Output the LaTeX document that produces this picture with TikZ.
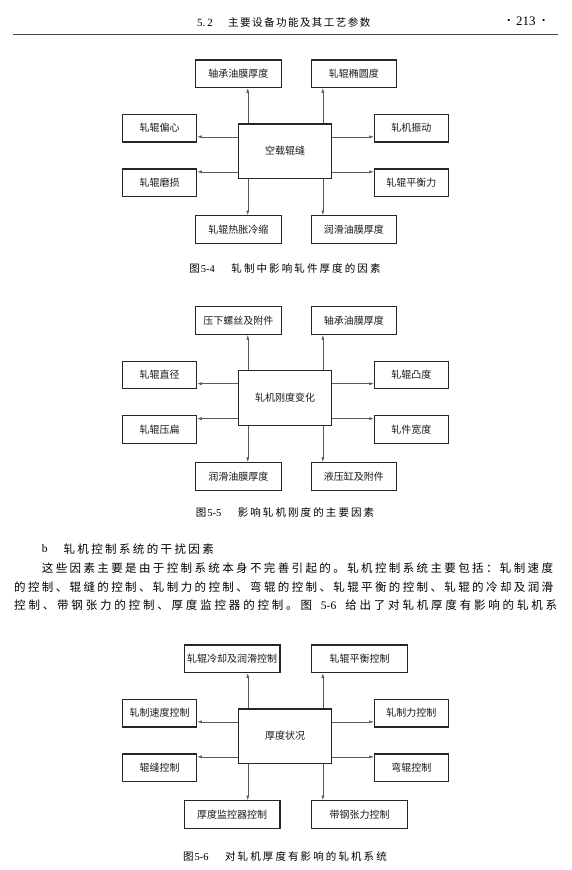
\documentclass[tikz,border=0pt]{standalone}
\usepackage{fontspec}
\setmainfont{Liberation Serif}
\newfontfamily\cjk{Noto Sans CJK SC}
\newfontfamily\cjkcap[LetterSpace=20]{Noto Sans CJK SC}
\newfontfamily\cjkhead[LetterSpace=14]{Noto Sans CJK SC}
\newfontfamily\cjkbody[LetterSpace=20.7]{Noto Sans CJK SC}
\newfontfamily\cjkbodyw[LetterSpace=24.5]{Noto Sans CJK SC}
\usetikzlibrary{arrows.meta}
\tikzset{
  box/.style={draw=black!85, line width=1.1pt, minimum height=27.7pt, inner sep=0pt,
    font=\cjk\fontsize{10}{12}\selectfont, text=black!90},
  sidebox/.style={box, minimum width=74pt},
  topbox/.style={box, minimum width=85.5pt},
  widebox/.style={box, minimum width=95.7pt},
  hub/.style={box, minimum width=93.4pt, minimum height=54.3pt},
  conn/.style={draw=black!65, line width=0.5pt, -{Latex[length=4.5pt,width=3pt]}},
  figcap/.style={inner sep=0pt, font=\fontsize{10.5}{12}\selectfont},
  body/.style={inner sep=0pt, anchor=west, font=\cjkbody\fontsize{11.5}{13}\selectfont},
}
\newcommand\spokes[1]{%
  \coordinate (#1p1) at ([xshift=10pt]#1.north west);
  \coordinate (#1p2) at ([xshift=-9.4pt]#1.north east);
  \coordinate (#1p3) at ([xshift=10pt]#1.south west);
  \coordinate (#1p4) at ([xshift=-9.4pt]#1.south east);
  \coordinate (#1p5) at ([yshift=-13.4pt]#1.north west);
  \coordinate (#1p6) at ([yshift=7pt]#1.south west);
  \coordinate (#1p7) at ([yshift=-13.4pt]#1.north east);
  \coordinate (#1p8) at ([yshift=7pt]#1.south east);
  \draw[conn] (#1p1) -- (#1p1 |- #1tl.south);
  \draw[conn] (#1p2) -- (#1p2 |- #1tr.south);
  \draw[conn] (#1p3) -- (#1p3 |- #1bl.north);
  \draw[conn] (#1p4) -- (#1p4 |- #1br.north);
  \draw[conn] (#1p5) -- (#1p5 -| #1l1.east);
  \draw[conn] (#1p6) -- (#1p6 -| #1l2.east);
  \draw[conn] (#1p7) -- (#1p7 -| #1r1.west);
  \draw[conn] (#1p8) -- (#1p8 -| #1r2.west);
}
\begin{document}
\begin{tikzpicture}[x=1pt,y=-1pt]
\useasboundingbox (0,0) rectangle (572,870);
% header
\node[inner sep=0pt, anchor=west] (hsec) at (197,22.7) {\fontsize{11}{12}\selectfont 5.\,2};
\node[inner sep=0pt, anchor=west] (htitle) at (228,22.7) {\cjkhead\fontsize{10.5}{12}\selectfont 主要设备功能及其工艺参数};
\node[inner sep=0pt] (hb1) at (509,21.7) {\fontsize{9}{9}\selectfont •};
\node[inner sep=0pt] (hpage) at (525.9,21.7) {\fontsize{13}{14}\selectfont 213};
\node[inner sep=0pt] (hb2) at (543.6,21.7) {\fontsize{9}{9}\selectfont •};
\draw[line width=0.9pt, black!70] (13,34) -- (558,34);

% Figure 5-4
\node[topbox]  (atl) at (238.35,73.85) {轴承油膜厚度};
\node[topbox]  (atr) at (353.85,73.85) {轧辊椭圆度};
\node[sidebox] (al1) at (159.7,128.15) {轧辊偏心};
\node[sidebox] (ar1) at (411.4,128.15) {轧机振动};
\node[hub]     (a)   at (285,151.15) {空载辊缝};
\node[sidebox] (al2) at (159.7,182.85) {轧辊磨损};
\node[sidebox] (ar2) at (411.4,182.85) {轧辊平衡力};
\node[topbox]  (abl) at (238.35,229.5) {轧辊热胀冷缩};
\node[topbox]  (abr) at (353.85,229.5) {润滑油膜厚度};
\spokes{a}
\node[figcap] (acap) at (285,268.3) {{\cjkcap 图}\hspace{1pt}5-4\hspace{16.5pt}{\cjkcap 轧制中影响轧件厚度的因素}};

% Figure 5-5
\begin{scope}[shift={(0,246.8)}]
\node[topbox]  (btl) at (238.35,73.85) {压下螺丝及附件};
\node[topbox]  (btr) at (353.85,73.85) {轴承油膜厚度};
\node[sidebox] (bl1) at (159.7,128.15) {轧辊直径};
\node[sidebox] (br1) at (411.4,128.15) {轧辊凸度};
\node[hub]     (b)   at (285,151.15) {轧机刚度变化};
\node[sidebox] (bl2) at (159.7,182.85) {轧辊压扁};
\node[sidebox] (br2) at (411.4,182.85) {轧件宽度};
\node[topbox]  (bbl) at (238.35,229.5) {润滑油膜厚度};
\node[topbox]  (bbr) at (353.85,229.5) {液压缸及附件};
\spokes{b}
\end{scope}
\node[figcap] (bcap) at (285,512) {{\cjkcap 图}\hspace{1pt}5-5\hspace{16.5pt}{\cjkcap 影响轧机刚度的主要因素}};

% Text
\node[inner sep=0pt, anchor=west] (tb) at (41.7,549) {\fontsize{11.5}{13}\selectfont b};
\node[body] (ttitle) at (63.3,549) {轧机控制系统的干扰因素};
\node[body] (tl2) at (41.7,567.7) {这些因素主要是由于控制系统本身不完善引起的。轧机控制系统主要包括：轧制速度};
\node[body] (tl3) at (14,586.7) {的控制、辊缝的控制、轧制力的控制、弯辊的控制、轧辊平衡的控制、轧辊的冷却及润滑};
\node[body] (tl4) at (14,605.5) {\makebox[543pt][s]{\cjkbodyw 控制、带钢张力的控制、厚度监控器的控制。图\hfill{\rmfamily\fontsize{11.5}{13}\selectfont 5-6}\hfill 给出了对轧机厚度有影响的轧机系}};

% Figure 5-6
\begin{scope}[shift={(0,585)}]
\node[widebox] (ctl) at (232.15,73.85) {轧辊冷却及润滑控制};
\node[widebox] (ctr) at (359.5,73.85) {轧辊平衡控制};
\node[sidebox] (cl1) at (159.7,128.15) {轧制速度控制};
\node[sidebox] (cr1) at (411.4,128.15) {轧制力控制};
\node[hub]     (c)   at (285,151.15) {厚度状况};
\node[sidebox] (cl2) at (159.7,182.85) {辊缝控制};
\node[sidebox] (cr2) at (411.4,182.85) {弯辊控制};
\node[widebox] (cbl) at (232.15,229.5) {厚度监控器控制};
\node[widebox] (cbr) at (359.5,229.5) {带钢张力控制};
\spokes{c}
\end{scope}
\node[figcap] (ccap) at (285,856.7) {{\cjkcap 图}\hspace{1pt}5-6\hspace{16.5pt}{\cjkcap 对轧机厚度有影响的轧机系统}};
\end{tikzpicture}
\end{document}
